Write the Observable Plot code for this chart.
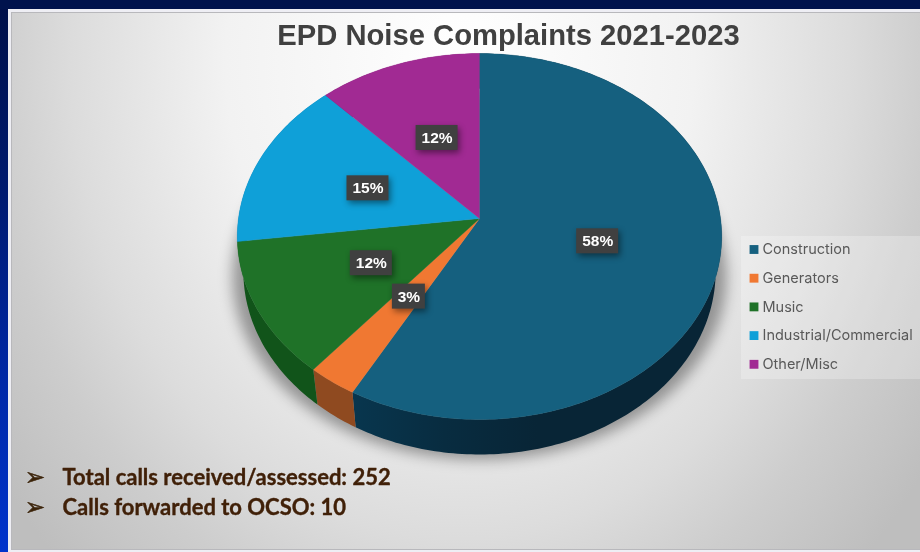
<!DOCTYPE html>
<html>
<head>
<meta charset="utf-8">
<script src="https://cdn.jsdelivr.net/npm/d3@7"></script>
<script src="https://cdn.jsdelivr.net/npm/@observablehq/plot@0.6"></script>
<style>
  html, body { margin: 0; padding: 0; width: 920px; height: 552px; overflow: hidden; background: #00134d; }
  #edge { position: absolute; left: 0; top: 0; width: 920px; height: 552px;
    background: linear-gradient(180deg, #001048 0%, #001a70 35%, #0028a8 70%, #0033cc 100%); }
  #topbar { position: absolute; left: 0; top: 0; width: 920px; height: 9px; background: #00134d; }
  #frame { position: absolute; left: 8px; top: 9px; width: 912px; height: 543px; background: #eeeef4; }
  #panel { position: absolute; left: 12px; top: 13px; width: 908px; height: 536px; box-shadow: 0 0 0 1px #b8b8bc;
    background: radial-gradient(ellipse 572px 704px at 448px 47px, #ffffff 0%, #f2f2f2 41%, #dcdcdc 68%, #cdcdcd 82%, #bebebe 100%); }
  #chart { position: absolute; left: 0; top: 0; filter: blur(0.35px); }
  #chart svg { background: transparent; }
  .pie-shadow { filter: blur(7px); }
  .label-box { filter: drop-shadow(2px 3px 3px rgba(0,0,0,.45)); }
</style>
</head>
<body>
<div id="edge"></div><div id="topbar"></div><div id="frame"></div><div id="panel"></div>
<div id="chart"></div>
<script>
const title = "EPD Noise Complaints 2021-2023";
const categories = ["Construction", "Generators", "Music", "Industrial/Commercial", "Other/Misc"];
const shares = [58, 3, 12, 15, 12];
const colors = ["#15607f", "#f07832", "#1f7228", "#0fa0d8", "#a12a93"];
const sideColors = ["url(#sideConstruction)", "#8f4a20", "#11541a", "#0b6f98", "#6f1d66"];
const notes = ["Total calls received/assessed: 252", "Calls forwarded to OCSO: 10"];

// Layout of the tilted pie: centre, perspective and wall depth
const cx = 479, cy = 218, bx = 241, ay = 181.2, k = -0.0984, depth = 35, wallInset = 0.975;
const project = (r, turn, drop = 0, xScale = 1) => {
  const a = turn * 2 * Math.PI, u = r * Math.sin(a), v = -r * Math.cos(a), d = 1 + k * v;
  return {x: cx + xScale * bx * u / d, y: cy + ay * v / d + drop};
};
const arcTurns = (from, to) => d3.range(0, 1.0001, 1 / Math.max(2, Math.ceil((to - from) * 360)))
  .map(t => from + (to - from) * t);

let acc = 0;
const slices = categories.map((category, i) => {
  const from = acc / 100; acc += shares[i]; const to = acc / 100;
  return {category, share: shares[i], from, to, mid: (from + to) / 2, side: sideColors[i]};
});

const topFaces = slices.flatMap(s => [
  {category: s.category, ...project(0, 0)},
  ...arcTurns(s.from, s.to).map(t => ({category: s.category, ...project(1, t)}))
]);
const sideFace = s => {
  const turns = arcTurns(s.from, s.to);
  return [...turns.map(t => project(1, t)), ...turns.reverse().map(t => project(1, t, depth, wallInset))];
};
const shadowOutline = arcTurns(0, 1).map(t => project(1, t, depth + 5, 1.02));

const labels = slices.map(s => {
  const p = project(0.5, s.mid);
  const text = s.share + "%";
  const w = text.length === 2 ? 33 : 42;
  return {text, x: p.x, y: p.y, x1: p.x - w / 2, x2: p.x + w / 2, y1: p.y - 12.5, y2: p.y + 12.5};
});

// Legend rows and notes are laid out from their index
const legendX = 753.5, legendTop = 249, legendStep = 28.7;
const legendRows = categories.map((category, i) => ({category, y: legendTop + i * legendStep}));
const noteRows = notes.map((text, i) => ({text, y: 477 + i * 30}));

const defs = () => {
  const d = d3.create("svg:defs");
  const g = d.append("linearGradient").attr("id", "sideConstruction").attr("x1", 0).attr("x2", 1).attr("y1", 0).attr("y2", 0);
  [[0, "#08364e"], [0.25, "#082c40"], [0.5, "#082536"], [1, "#082536"]].forEach(([o, c]) =>
    g.append("stop").attr("offset", o).attr("stop-color", c));
  return d.node();
};

const chart = Plot.plot({
  width: 920, height: 552,
  margin: 0,
  x: {domain: [0, 920], range: [0, 920], axis: null},
  y: {domain: [0, 552], range: [0, 552], axis: null},
  color: {domain: categories, range: colors},
  style: {background: "transparent"},
  marks: [
    defs,
    Plot.rect([{x1: 741, x2: 920, y1: 236, y2: 379}], {x1: "x1", x2: "x2", y1: "y1", y2: "y2", fill: "#fff", fillOpacity: 0.25}),
    Plot.line(shadowOutline, {x: "x", y: "y", fill: "#000", fillOpacity: 0.36, stroke: "none", className: "pie-shadow"}),
    ...slices.map(s => Plot.line(sideFace(s), {x: "x", y: "y", fill: s.side, stroke: "none"})),
    Plot.line(topFaces, {x: "x", y: "y", z: "category", fill: "category", stroke: "category", strokeWidth: 0.4}),
    Plot.rect(labels, {x1: "x1", x2: "x2", y1: "y1", y2: "y2", fill: "#404040", className: "label-box"}),
    Plot.text(labels, {x: "x", y: "y", text: "text", fill: "#fff", fontWeight: "bold", fontSize: 15.5, fontFamily: "Liberation Sans"}),
    Plot.text([title], {x: () => 508, y: () => 35, text: d => d, fill: "#404040", fontWeight: "bold", fontSize: 29.2, fontFamily: "Liberation Sans"}),
    Plot.dot(legendRows, {x: () => legendX, y: "y", symbol: "square", r: 5, fill: "category", stroke: "none"}),
    Plot.text(legendRows, {x: () => 762, y: "y", text: "category", textAnchor: "start", fill: "#595959", fontSize: 14.5, fontFamily: "Inter"}),
    Plot.text(noteRows, {x: () => 34.5, y: "y", text: () => "\u27A2", fill: "#3a2208", stroke: "#3a2208", strokeWidth: 0.6, fontSize: 24, fontFamily: "DejaVu Sans"}),
    Plot.text(noteRows, {x: () => 62, y: "y", text: "text", textAnchor: "start", fill: "#402008", stroke: "#402008", strokeWidth: 0.35, fontWeight: "bold", fontSize: 22, fontFamily: "Lato"})
  ]
});
document.getElementById("chart").appendChild(chart);
</script>
</body>
</html>
